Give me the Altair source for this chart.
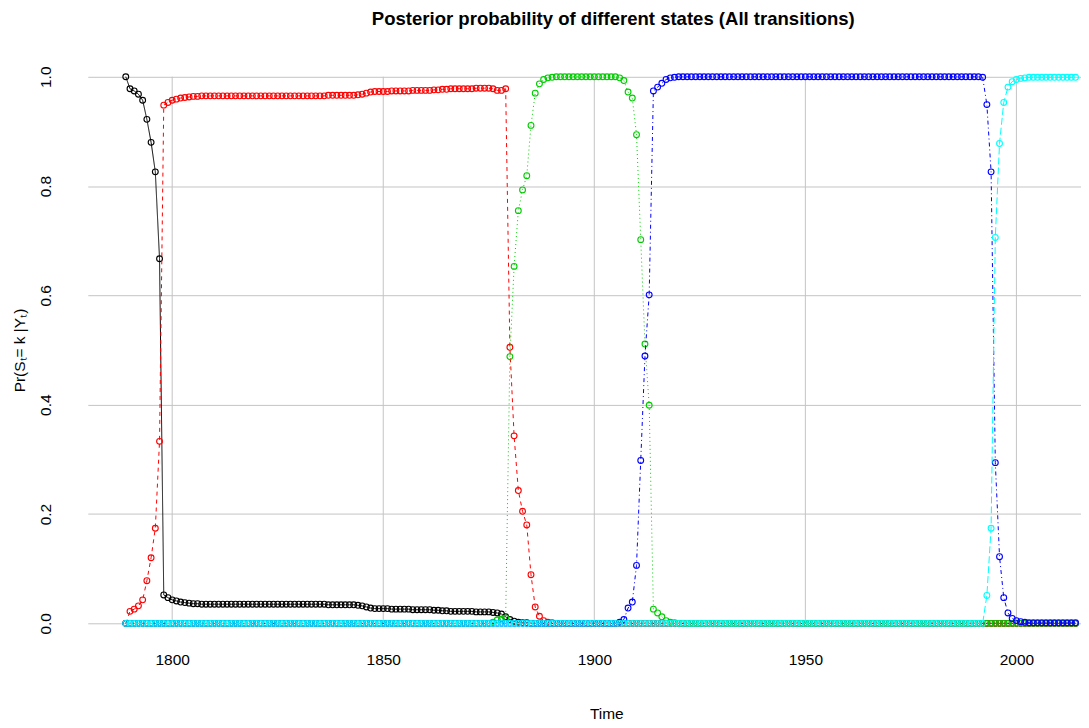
import altair as alt
import pandas as pd

# ---------------- data ----------------
years = list(range(1789, 2015))  # 226 annual observations

state1_black = (
    [1.0, 0.978, 0.974, 0.968, 0.957, 0.922, 0.880, 0.826, 0.667, 0.052]          # 1789-1798
    + [0.047, 0.043, 0.041, 0.039, 0.038, 0.037, 0.036, 0.036, 0.035, 0.035]      # 1799-1808
    + [0.035] * 20                                                                # 1809-1828
    + [0.035, 0.035, 0.035, 0.035, 0.035, 0.035, 0.035, 0.035, 0.034, 0.034]      # 1829-1838
    + [0.034, 0.034, 0.034, 0.034, 0.034, 0.033, 0.032, 0.030, 0.028, 0.027]      # 1839-1848
    + [0.027, 0.027, 0.027, 0.026, 0.026, 0.026, 0.026, 0.026, 0.025, 0.025]      # 1849-1858
    + [0.025, 0.025, 0.025, 0.024, 0.024, 0.023, 0.023, 0.022, 0.022, 0.022]      # 1859-1868
    + [0.022, 0.022, 0.022, 0.021, 0.021, 0.021, 0.021, 0.020, 0.019, 0.017]      # 1869-1878
    + [0.012, 0.007, 0.004, 0.002, 0.001, 0.001, 0.0, 0.0, 0.0, 0.0]              # 1879-1888
    + [0.0] * 126                                                                 # 1889-2014
)

state2_red = (
    [0.0, 0.022, 0.026, 0.032, 0.043, 0.078, 0.120, 0.174, 0.333, 0.948]          # 1789-1798
    + [0.953, 0.957, 0.959, 0.961, 0.962, 0.963, 0.964, 0.964, 0.965, 0.965]      # 1799-1808
    + [0.965] * 20                                                                # 1809-1828
    + [0.965, 0.965, 0.965, 0.965, 0.965, 0.965, 0.965, 0.965, 0.966, 0.966]      # 1829-1838
    + [0.966, 0.966, 0.966, 0.966, 0.966, 0.967, 0.968, 0.970, 0.972, 0.973]      # 1839-1848
    + [0.973, 0.973, 0.973, 0.974, 0.974, 0.974, 0.974, 0.974, 0.975, 0.975]      # 1849-1858
    + [0.975, 0.975, 0.975, 0.976, 0.976, 0.977, 0.977, 0.978, 0.978, 0.978]      # 1859-1868
    + [0.978, 0.978, 0.978, 0.979, 0.979, 0.979, 0.979, 0.978, 0.975, 0.975]      # 1869-1878
    + [0.978, 0.505, 0.343, 0.243, 0.205, 0.180, 0.089, 0.030, 0.013, 0.005]      # 1879-1888
    + [0.002, 0.001]                                                              # 1889-1890
    + [0.0] * 124                                                                 # 1891-2014
)

state3_green = (
    [0.0] * 87                                                                    # 1789-1875
    + [0.002, 0.006, 0.008, 0.010, 0.488, 0.653, 0.755, 0.793, 0.819, 0.911]      # 1876-1885
    + [0.970, 0.987, 0.995, 0.998, 0.999]                                         # 1886-1890
    + [1.0] * 15                                                                  # 1891-1905
    + [0.998, 0.993, 0.972, 0.961, 0.894, 0.702, 0.511, 0.399, 0.026, 0.019]      # 1906-1915
    + [0.012, 0.005, 0.002, 0.001]                                                # 1916-1919
    + [0.0] * 95                                                                  # 1920-2014
)

state4_blue = (
    [0.0] * 117                                                                   # 1789-1905
    + [0.002, 0.007, 0.028, 0.039, 0.106, 0.298, 0.489, 0.601, 0.974, 0.981]      # 1906-1915
    + [0.988, 0.995, 0.998, 0.999]                                                # 1916-1919
    + [1.0] * 72                                                                  # 1920-1991
    + [0.999, 0.949, 0.826, 0.294, 0.122, 0.047, 0.019, 0.009, 0.005, 0.003]      # 1992-2001
    + [0.002]                                                                     # 2002
    + [0.001] * 12                                                                # 2003-2014
)

state5_cyan = (
    [0.0] * 204                                                                   # 1789-1992
    + [0.051, 0.174, 0.706, 0.878, 0.953, 0.981, 0.991, 0.995, 0.997, 0.998]      # 1993-2002
    + [0.999] * 12                                                                # 2003-2014
)

series_names = ["State 1", "State 2", "State 3", "State 4", "State 5"]
series_values = [state1_black, state2_red, state3_green, state4_blue, state5_cyan]
series_colors = ["#000000", "#FF0000", "#00CD00", "#0000FF", "#00FFFF"]
series_dashes = [[1, 0], [4, 4], [1, 3], [1, 3, 4, 3], [7, 3]]

x_ticks = [1800, 1850, 1900, 1950, 2000]
y_ticks = [0.0, 0.2, 0.4, 0.6, 0.8, 1.0]

title_text = "Posterior probability of different states (All transitions)"
x_title = "Time"
y_title = "Pr(S\u209c= k |Y\u209c)"

# ---------------- chart ----------------
FONT = "Liberation Sans, Arial, Helvetica, sans-serif"
W, H = 996, 592
GRID = "#c4c4c4"

x_scale = alt.Scale(domain=[1780, 2015.3], nice=False, zero=False)
y_scale = alt.Scale(domain=[-0.04, 1.04], nice=False, zero=False)

x_axis = alt.Axis(
    values=x_ticks, format="d", grid=False, domain=False, ticks=False, tickSize=0,
    labelPadding=19, labelBaseline="alphabetic", labelFont=FONT, labelFontSize=15.5,
    labelColor="black", title=x_title, titleFont=FONT, titleFontSize=15.5,
    titleFontWeight="normal", titleColor="black", titleX=520, titleY=73,
    titleBaseline="alphabetic", titleAlign="center",
)
y_axis = alt.Axis(
    values=y_ticks, format=".1f", grid=True, gridColor=GRID, gridWidth=1,
    domain=False, ticks=False, tickSize=0, labelAngle=270, labelAlign="center",
    labelBaseline="alphabetic", labelPadding=37, labelFont=FONT, labelFontSize=15.5,
    labelColor="black", title=y_title, titleFont=FONT, titleFontSize=15.5,
    titleFontWeight="normal", titleColor="black", titleAngle=270, titleX=-63,
    titleY=H / 2, titleAlign="center", titleBaseline="alphabetic",
)

grid_df = pd.DataFrame({"yr": x_ticks, "lo": [0.0] * len(x_ticks), "hi": [1.0] * len(x_ticks)})
vgrid = alt.Chart(grid_df).mark_rule(color=GRID, strokeWidth=1).encode(
    x=alt.X("yr:Q", scale=x_scale, axis=x_axis),
    y=alt.Y("lo:Q", scale=y_scale, axis=y_axis),
    y2="hi:Q",
)

title_df = pd.DataFrame({"t": [title_text]})
title_mark = alt.Chart(title_df).mark_text(
    font=FONT, fontSize=18.6, fontWeight="bold", color="black",
    align="center", baseline="alphabetic",
).encode(text="t:N", x=alt.value(527), y=alt.value(-30))

layers = [vgrid]
for name, vals, col, dash in zip(series_names, series_values, series_colors, series_dashes):
    df = pd.DataFrame({"year": years, "value": vals})
    enc = dict(
        x=alt.X("year:Q", scale=x_scale, axis=x_axis),
        y=alt.Y("value:Q", scale=y_scale, axis=y_axis),
    )
    line = alt.Chart(df).mark_line(color=col, strokeWidth=1, strokeDash=dash).encode(**enc)
    pts = alt.Chart(df).mark_point(
        shape="circle", filled=False, color=col, size=34, strokeWidth=1.1, opacity=1
    ).encode(**enc)
    layers += [line, pts]
layers.append(title_mark)

chart = alt.layer(*layers).properties(
    width=W,
    height=H,
    background="white",
    padding={"left": 80, "top": 46, "right": 0, "bottom": 80},
    autosize=alt.AutoSizeParams(type="none"),
).configure_view(stroke=None)

chart.save("out.html", embed_options={"renderer": "svg", "actions": False})
